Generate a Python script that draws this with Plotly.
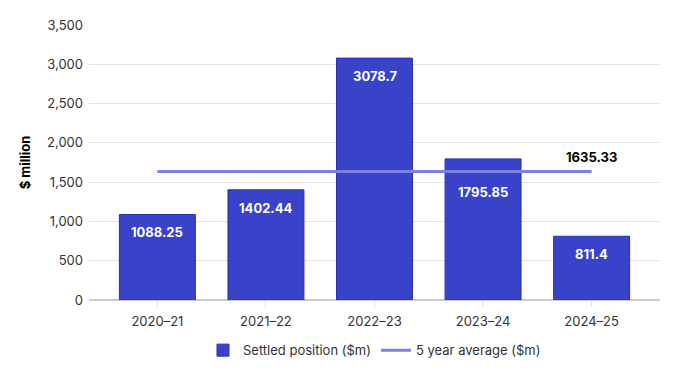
import plotly.graph_objects as go

categories = ["2020–21", "2021–22", "2022–23", "2023–24", "2024–25"]
settled = [1088.25, 1402.44, 3078.7, 1795.85, 811.4]
average = [1635.33, 1635.33, 1635.33, 1635.33, 1635.33]
avg_label = "1635.33"

fig = go.Figure()
fig.add_trace(go.Bar(
    x=categories, y=settled, name="Settled position ($m)",
    marker=dict(color="#3843c9", line=dict(color="#2a33b0", width=1)),
))
fig.add_trace(go.Scatter(
    x=categories, y=average, name="5 year average ($m)", mode="lines",
    line=dict(color="#7d82e2", width=3),
))
fig.add_annotation(x=categories[-1], y=average[-1], text=f"<b>{avg_label}</b>", showarrow=False,
                   yshift=15, font=dict(color="black", size=13, family="Inter"))
# bar value labels, shifted further down where they would collide with the average line
for c, v, a in zip(categories, settled, average):
    shift = -33 if 0 < v - a < 300 else -18
    fig.add_annotation(x=c, y=v, text=f"<b>{v}</b>", showarrow=False, yshift=shift,
                       font=dict(color="white", size=13, family="Inter"))

fig.update_layout(
    width=680, height=376,
    margin=dict(l=81, r=28, t=17, b=84, autoexpand=False),
    plot_bgcolor="white", paper_bgcolor="white",
    font=dict(family="Inter", size=13, color="#333"),
    bargap=0.3,
    showlegend=True,
    legend=dict(orientation="h", x=0.5, xanchor="center", yref="container", y=0.05, yanchor="bottom",
                font=dict(size=13, color="#333")),
    xaxis=dict(range=[-0.63, 4.63], showgrid=False, ticks="outside", ticklen=6,
               tickcolor="#ddd", showline=False, automargin=False, ticklabelstandoff=3),
    yaxis=dict(range=[0, 3500], dtick=500, tickformat=",", gridcolor="#e3e3e3", automargin=False,
               zeroline=True, zerolinecolor="#ccc", ticks="", ticklabelstandoff=5,
               title=dict(text="$ million", font=dict(size=13, color="black", weight="bold"), standoff=13)),
)
fig.write_html("out.html")
